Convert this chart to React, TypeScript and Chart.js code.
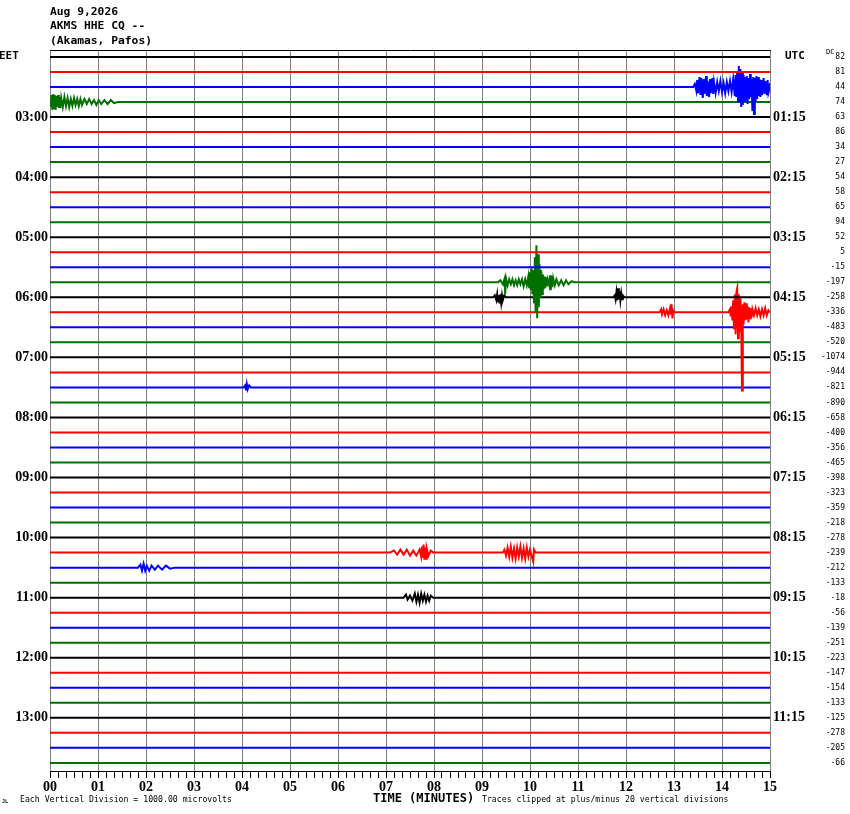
import { useEffect, useRef } from 'react';
import { Chart, registerables } from 'chart.js';

Chart.register(...registerables);

// helicorder layout: 48 lines of 15 minutes, starting 02:00 EET
const ROW_COUNT = 48;
const TRACE_COLORS = ['#000000', '#ff0000', '#0000ff', '#007000'];

const MINUTE_LABELS = ['00', '01', '02', '03', '04', '05', '06', '07', '08', '09', '10', '11', '12', '13', '14', '15'];
const HOUR_ROWS = [4, 8, 12, 16, 20, 24, 28, 32, 36, 40, 44];
const EET_LABELS = ['03:00', '04:00', '05:00', '06:00', '07:00', '08:00', '09:00', '10:00', '11:00', '12:00', '13:00'];
const UTC_LABELS = ['01:15', '02:15', '03:15', '04:15', '05:15', '06:15', '07:15', '08:15', '09:15', '10:15', '11:15'];

const DC_VALUES = [
  82, 81, 44, 74, 63, 86, 34, 27, 54, 58, 65, 94, 52, 5, -15, -197,
  -258, -336, -483, -520, -1074, -944, -821, -890, -658, -400, -356, -465, -398, -323, -359, -218,
  -278, -239, -212, -133, -18, -56, -139, -251, -223, -147, -154, -133, -125, -278, -205, -66,
];

// [seconds into the line, deflection up in trace units (15 = one line spacing)]
const BLUE_0230 = [
  [804, 0], [806, 3], [808, -4], [809, 7], [810, -6], [812, 10], [813, -8], [814, 9], [816, -11], [817, 8],
  [818, -7], [820, 11], [821, -9], [822, 6], [824, -10], [825, 8], [826, -6], [828, 9], [829, -7], [830, 5],
  [832, -6], [834, 5], [836, -4], [838, 6], [840, -5], [842, 4], [844, -6], [846, 5], [848, -4], [850, 6],
  [852, -5], [854, 8], [856, -9], [857, 12], [858, -10], [859, 16], [860, -14], [861, 21], [862, -16], [863, 18],
  [864, -20], [865, 14], [866, -18], [867, 12], [868, -15], [869, 10], [870, -13], [871, 11], [872, -17], [873, 9],
  [874, -12], [875, 13], [876, -10], [877, 8], [878, -24], [879, 10], [880, -27], [881, 9], [882, -14], [883, 11],
  [884, -12], [885, 10], [886, -9], [887, 8], [888, -10], [889, 7], [890, -8], [892, 9], [893, -7], [894, 6],
  [896, -8], [897, 7], [898, -6], [900, 4],
];
const GREEN_0245 = [
  [0, 3], [1, -5], [2, 7], [3, -8], [4, 8], [5, -6], [6, 7], [7, -8], [8, 6], [9, -5], [10, 7], [11, -6],
  [12, 5], [13, -6], [14, 4], [16, -5], [18, 5], [20, -4], [22, 4], [24, -5], [26, 3], [28, -4], [30, 4],
  [32, -3], [34, 3], [36, -4], [38, 3], [40, -3], [43, 3], [46, -2], [49, 3], [52, -2], [55, 2], [58, -3],
  [61, 2], [64, -2], [68, 2], [72, -2], [76, 2], [80, -1], [85, 0],
];
const GREEN_0545 = [
  [560, 0], [563, 2], [566, -2], [568, 3], [569, -12], [570, 4], [572, -3], [574, 3], [576, -2], [578, 3],
  [580, -3], [582, 2], [584, -3], [586, 3], [588, -2], [590, 3], [592, -4], [594, 3], [596, -3], [598, 6],
  [599, -6], [600, 10], [601, -8], [602, 14], [603, -12], [604, 12], [605, -20], [606, 25], [607, -30], [608, 37],
  [609, -36], [610, 28], [611, -25], [612, 18], [613, -16], [614, 12], [615, -12], [616, 8], [617, -7], [618, 6],
  [619, -6], [620, 5], [621, -4], [622, 3], [624, -3], [625, 7], [626, -8], [627, 6], [628, -5], [629, 4],
  [631, -3], [633, 3], [636, -3], [639, 2], [642, -3], [645, 2], [648, -2], [652, 1], [655, 0],
];
const BLACK_0600_A = [
  [554, 0], [556, 2], [558, -3], [559, 3], [560, -4], [561, 2], [562, -6], [563, 3], [564, -5], [565, 2],
  [566, -3], [568, 2], [570, 0],
];
const BLACK_0600_B = [
  [704, 0], [706, 2], [707, -2], [708, 5], [709, -3], [710, 9], [711, -2], [712, 6], [713, -3], [714, 4],
  [715, -2], [716, 2], [718, 0],
];
const RED_0615_A = [
  [762, 0], [764, 3], [765, -2], [767, 3], [769, -3], [771, 2], [773, -3], [775, 4], [776, -2], [777, 8],
  [778, -6], [779, 2], [781, 0],
];
const RED_0615_B = [
  [848, 0], [850, 3], [851, -4], [852, 6], [853, -8], [854, 12], [855, -16], [856, 18], [857, -22], [858, 20],
  [859, 24], [860, -26], [861, 18], [862, -20], [863, 14], [864, -10], [865, -78], [866, 8], [867, -12], [868, 10],
  [869, -8], [870, 9], [871, -7], [872, 6], [873, -10], [874, 5], [875, -6], [876, 4], [877, -5], [878, 3],
  [880, -3], [882, 4], [884, -3], [886, 3], [888, -4], [890, 3], [892, -3], [894, 4], [896, -3], [898, 2], [900, 0],
];
const BLUE_0730 = [[242, 0], [244, 2], [245, -3], [246, 3], [247, -2], [249, 2], [251, 0]];
const RED_1015_A = [
  [425, 0], [430, 2], [434, -2], [438, 3], [442, -2], [446, 3], [450, -3], [454, 2], [458, -3], [462, 3],
  [464, -4], [465, 6], [466, -5], [467, 8], [468, -7], [469, 5], [470, -6], [471, 4], [473, -3], [476, 2], [479, 0],
];
const RED_1015_B = [
  [566, 0], [568, 3], [570, -3], [572, 5], [574, -4], [576, 6], [578, -5], [580, 4], [582, -6], [584, 5],
  [586, -4], [588, 6], [590, -5], [592, 4], [594, -6], [596, 5], [598, -4], [600, 3], [602, -3], [604, -9],
  [605, 3], [607, 0],
];
const BLUE_1030 = [
  [110, 0], [113, 3], [115, -3], [117, 4], [119, -3], [121, 2], [124, -3], [127, 2], [131, -2], [135, 2],
  [140, -2], [145, 2], [150, -1], [156, 0],
];
const BLACK_1100 = [
  [442, 0], [445, 3], [447, -2], [450, 2], [453, -3], [456, 4], [458, -4], [460, 3], [462, -5], [464, 4],
  [466, -3], [468, 3], [470, -4], [472, 2], [474, -3], [476, 2], [479, 0],
];

const EVENT_ROWS = [2, 3, 15, 16, 16, 17, 17, 22, 33, 33, 34, 36];
const EVENT_TRACES = [
  BLUE_0230, GREEN_0245, GREEN_0545, BLACK_0600_A, BLACK_0600_B, RED_0615_A, RED_0615_B,
  BLUE_0730, RED_1015_A, RED_1015_B, BLUE_1030, BLACK_1100,
];

const UNITS_PER_ROW = 15;
const Y_MIN = -0.465;
const Y_MAX = 47.54;

const MONO = '"DejaVu Sans Mono", monospace';
const SERIF = '"Liberation Serif", serif';

function buildRow(row: number) {
  const pts: [number, number][] = [[0, 0], [900, 0]];
  EVENT_ROWS.forEach((r, i) => {
    if (r === row) EVENT_TRACES[i].forEach((p) => pts.push([p[0], p[1]]));
  });
  pts.sort((a, b) => a[0] - b[0]);
  return pts.map(([x, up]) => ({ x, y: row - up / UNITS_PER_ROW }));
}

const textPlugin = {
  id: 'heliText',
  afterDraw(chart: any) {
    const ctx = chart.ctx;
    const y = chart.scales.y;
    const row0 = y.getPixelForValue(0);
    ctx.save();
    ctx.fillStyle = '#000';
    ctx.textBaseline = 'middle';
    ctx.textAlign = 'left';

    ctx.font = `bold 11.3px ${MONO}`;
    ctx.fillText('Aug 9,2026', 50, 12);
    ctx.fillText('AKMS HHE CQ --', 50, 26.5);
    ctx.fillText('(Akamas, Pafos)', 50, 41);

    ctx.font = `bold 11px ${MONO}`;
    ctx.fillText('EET', -1, row0 - 0.5);
    ctx.fillText('UTC', 785, row0 - 0.5);

    ctx.font = `7px ${MONO}`;
    ctx.fillText('DC', 826, row0 - 5);

    ctx.font = `8.2px ${MONO}`;
    ctx.fillText('Each Vertical Division = 1000.00 microvolts', 20, 800);
    ctx.fillText('Traces clipped at plus/minus 20 vertical divisions', 482, 800);
    ctx.font = `bold 5px ${MONO}`;
    ctx.fillText('JL', 2, 802);

    ctx.font = `bold 12px ${MONO}`;
    ctx.fillText('TIME (MINUTES)', 373, 799);
    ctx.restore();
  },
};

export default function App() {
  const canvasRef = useRef<HTMLCanvasElement>(null);
  const chartRef = useRef<Chart | null>(null);

  useEffect(() => {
    if (!canvasRef.current) return;
    if (chartRef.current) chartRef.current.destroy();

    const datasets = Array.from({ length: ROW_COUNT }, (_, row) => ({
      label: `row ${row}`,
      data: buildRow(row),
      borderColor: TRACE_COLORS[row % 4],
      borderWidth: 2,
      pointRadius: 0,
      tension: 0,
      xAxisID: 'x',
      yAxisID: 'y',
    }));

    const rowScale = { type: 'linear', reverse: true, min: Y_MIN, max: Y_MAX };

    chartRef.current = new Chart(canvasRef.current, {
      type: 'line',
      data: { datasets },
      plugins: [textPlugin],
      options: {
        responsive: false,
        animation: false,
        events: [],
        layout: { padding: { top: 50, right: 5, left: 0, bottom: 0 } },
        plugins: { legend: { display: false }, tooltip: { enabled: false }, title: { display: false } },
        scales: {
          x: {
            type: 'linear',
            position: 'bottom',
            min: 0,
            max: 900,
            afterFit: (s: any) => { s.height = 43; },
            ticks: {
              stepSize: 10,
              autoSkip: false,
              maxRotation: 0,
              padding: 1,
              color: '#000',
              font: { family: SERIF, weight: 'bold', size: 14 },
              callback: (v: any) => (v % 60 === 0 ? MINUTE_LABELS[v / 60] : ''),
            },
            grid: {
              color: (c: any) => (c.tick && c.tick.value % 60 === 0 ? '#808080' : 'rgba(0,0,0,0)'),
              tickColor: '#000',
              tickLength: 7,
              lineWidth: 1,
            },
            border: { display: true, color: '#000', width: 1 },
          },
          xTop: {
            type: 'linear',
            position: 'top',
            min: 0,
            max: 900,
            afterFit: (s: any) => { s.height = 0; },
            ticks: { display: false },
            grid: { display: false, drawTicks: false },
            border: { display: true, color: '#000', width: 1 },
          },
          y: {
            ...rowScale,
            position: 'left',
            afterFit: (s: any) => { s.width = 50; },
            afterBuildTicks: (s: any) => { s.ticks = HOUR_ROWS.map((v) => ({ value: v })); },
            ticks: {
              padding: 2,
              crossAlign: 'near',
              color: '#000',
              font: { family: SERIF, weight: 'bold', size: 14 },
              callback: (_v: any, i: number) => EET_LABELS[i],
            },
            grid: { display: false, drawTicks: false },
            border: { display: false },
          },
          yUtc: {
            ...rowScale,
            position: 'right',
            afterFit: (s: any) => { s.width = 48; },
            afterBuildTicks: (s: any) => { s.ticks = HOUR_ROWS.map((v) => ({ value: v })); },
            ticks: {
              padding: 3,
              crossAlign: 'near',
              color: '#000',
              font: { family: SERIF, weight: 'bold', size: 14 },
              callback: (_v: any, i: number) => UTC_LABELS[i],
            },
            grid: { display: false, drawTicks: false },
            border: { display: false },
          },
          yDc: {
            ...rowScale,
            position: 'right',
            afterFit: (s: any) => { s.width = 27; },
            afterBuildTicks: (s: any) => { s.ticks = DC_VALUES.map((_d, i) => ({ value: i })); },
            ticks: {
              padding: 0,
              crossAlign: 'far',
              color: '#000',
              font: { family: MONO, size: 8 },
              callback: (_v: any, i: number) => String(DC_VALUES[i]),
            },
            grid: { display: false, drawTicks: false },
            border: { display: false },
          },
        },
      } as any,
    });

    return () => {
      if (chartRef.current) {
        chartRef.current.destroy();
        chartRef.current = null;
      }
    };
  }, []);

  return (
    <div style={{ position: 'fixed', left: 0, top: 0, width: 850, height: 814, background: '#fff' }}>
      <canvas ref={canvasRef} width={850} height={814} style={{ display: 'block' }} />
    </div>
  );
}
